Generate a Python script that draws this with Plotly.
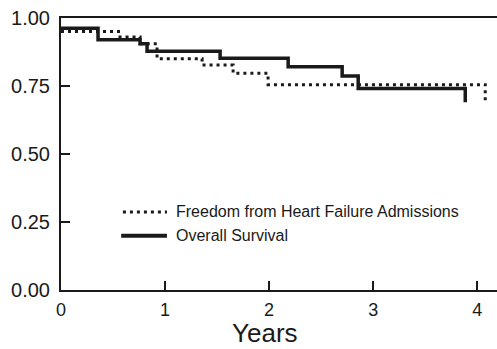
import plotly.graph_objects as go

# Kaplan-Meier step estimates (years, proportion)
hf_free_years = [0.0, 0.567, 0.76, 0.923, 1.356, 1.654, 1.99, 4.077]
hf_free_prob = [0.95, 0.93, 0.905, 0.85, 0.827, 0.797, 0.755, 0.69]

survival_years = [0.0, 0.356, 0.76, 0.827, 1.529, 2.183, 2.702, 2.856, 3.885]
survival_prob = [0.962, 0.92, 0.905, 0.878, 0.852, 0.821, 0.787, 0.741, 0.69]

y_ticks = [0.0, 0.25, 0.5, 0.75, 1.0]
y_tick_labels = ["0.00", "0.25", "0.50", "0.75", "1.00"]
x_ticks = [0, 1, 2, 3, 4]
x_tick_labels = ["0", "1", "2", "3", "4"]

legend_labels = ["Freedom from Heart Failure Admissions", "Overall Survival"]

INK = "#1a1a1a"
FONT = "Liberation Sans, Arial, sans-serif"
DOT = "3px,4px"

fig = go.Figure()

fig.add_trace(go.Scatter(
    x=survival_years, y=survival_prob, mode="lines",
    line=dict(color=INK, width=3.5, shape="hv"),
    name=legend_labels[1], showlegend=False,
))
fig.add_trace(go.Scatter(
    x=hf_free_years, y=hf_free_prob, mode="lines",
    line=dict(color=INK, width=3, shape="hv", dash=DOT),
    name=legend_labels[0], showlegend=False,
))

# Hand-placed key inside the plot area
key_rows = [
    dict(y=0.287, dash=DOT, width=3, x0=0.142),
    dict(y=0.199, dash="solid", width=4, x0=0.138),
]
for row, label in zip(key_rows, legend_labels):
    fig.add_shape(type="line", xref="paper", yref="paper",
                  x0=row["x0"], x1=0.243, y0=row["y"], y1=row["y"],
                  line=dict(color=INK, width=row["width"], dash=row["dash"]))
    fig.add_annotation(xref="paper", yref="paper", x=0.259, y=row["y"],
                       xanchor="left", yanchor="middle", showarrow=False,
                       text=label, font=dict(family=FONT, size=16, color=INK))

# Axis title pinned to the bottom edge of the figure
fig.add_annotation(xref="paper", yref="paper", x=0.468, y=-0.216,
                   xanchor="center", yanchor="bottom", showarrow=False,
                   borderpad=0,
                   text="Years", font=dict(family=FONT, size=26, color=INK))

fig.update_xaxes(
    range=[0, 4.19], tickvals=x_ticks, ticktext=x_tick_labels,
    ticks="inside", ticklen=9, tickwidth=1.5, tickcolor=INK,
    showline=True, linecolor=INK, linewidth=2, mirror=True,
    showgrid=False, zeroline=False, ticklabelstandoff=2,
    tickfont=dict(family=FONT, size=18, color=INK),
)
fig.update_yaxes(
    range=[0, 1], tickvals=y_ticks, ticktext=y_tick_labels,
    ticks="inside", ticklen=9, tickwidth=1.5, tickcolor=INK,
    showline=True, linecolor=INK, linewidth=2,
    showgrid=False, zeroline=False, ticklabelstandoff=5,
    tickfont=dict(family=FONT, size=20, color=INK),
)

fig.update_layout(
    width=497, height=349,
    margin=dict(l=61, r=0, t=18, b=59),
    plot_bgcolor="white", paper_bgcolor="white",
    showlegend=False,
)

fig.write_html("out.html")
